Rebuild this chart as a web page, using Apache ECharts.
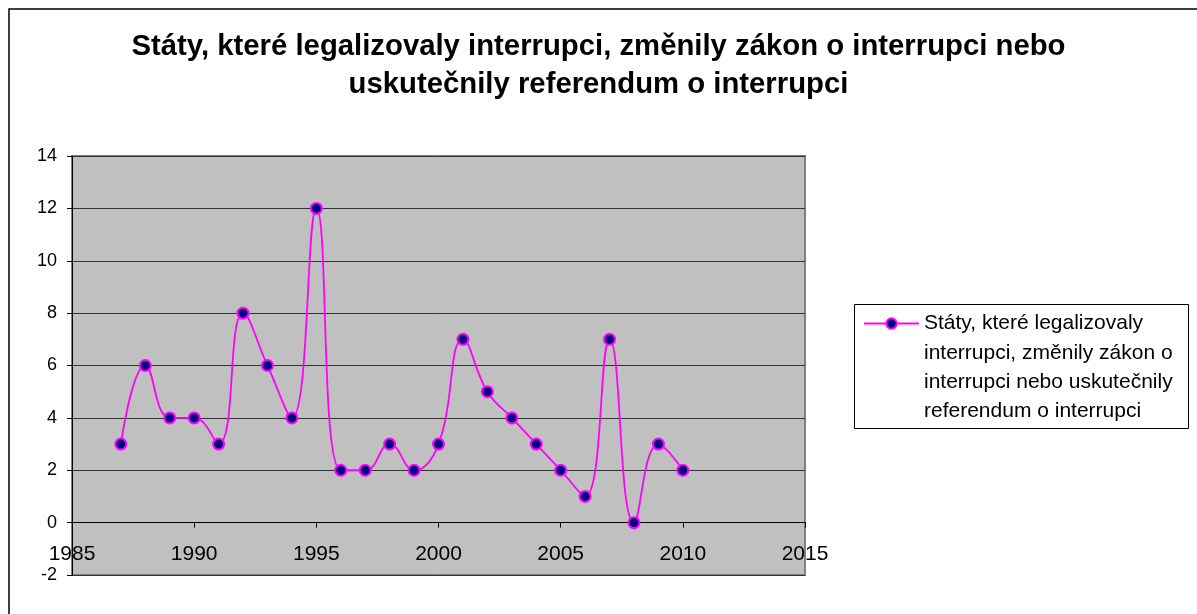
<!DOCTYPE html>
<html>
<head>
<meta charset="utf-8">
<script src="https://cdn.jsdelivr.net/npm/echarts@6/dist/echarts.min.js"></script>
<style>
html,body{margin:0;padding:0;background:#fff;}
#chart{width:1197px;height:614px;}
</style>
</head>
<body>
<div id="chart"></div>
<script>
const years = [1987,1988,1989,1990,1991,1992,1993,1994,1995,1996,1997,1998,1999,2000,2001,2002,2003,2004,2005,2006,2007,2008,2009,2010];
const counts = [3,6,4,4,3,8,6,4,12,2,2,3,2,3,7,5,4,3,2,1,7,0,3,2];
const seriesName = 'Státy, které legalizovaly interrupci, změnily zákon o interrupci nebo uskutečnily referendum o interrupci';
const legendLines = ['Státy, které legalizovaly','interrupci, změnily zákon o','interrupci nebo uskutečnily','referendum o interrupci'];
const titleText = 'Státy, které legalizovaly interrupci, změnily zákon o interrupci nebo\nuskutečnily referendum o interrupci';

const FONT = "Arial, 'Liberation Sans', sans-serif";
const chart = echarts.init(document.getElementById('chart'), null, {renderer:'canvas'});
const points = years.map((y,i)=>[y, counts[i]]);

chart.setOption({
  animation:false,
  backgroundColor:'#ffffff',
  title:{
    text:titleText,
    left:'center',
    top:28,
    padding:[0,0,0,10],
    textStyle:{fontFamily:FONT,fontSize:29.3,fontWeight:'bold',color:'#000',lineHeight:38}
  },
  graphic:[
    {type:'rect',shape:{x:9,y:9,width:1200,height:620},style:{fill:'none',stroke:'#000',lineWidth:1.5},z:-1},
    {type:'rect',shape:{x:854.5,y:304.5,width:334,height:124},style:{fill:'#fff',stroke:'#000',lineWidth:1},z:-1}
  ],
  legend:{
    left:863,
    top:221,
    padding:0,
    itemWidth:55,
    itemHeight:13,
    data:[seriesName],
    formatter:()=>'\n\n\n' + legendLines.join('\n'),
    textStyle:{fontFamily:FONT,fontSize:21,color:'#000',lineHeight:29.3},
    selectedMode:false
  },
  grid:{
    left:72,top:156,right:392,bottom:39,
    show:true,backgroundColor:'#c0c0c0',borderColor:'#808080',borderWidth:2
  },
  xAxis:{
    type:'value',min:1985,max:2015,interval:5,
    axisLine:{show:true,onZero:true,lineStyle:{color:'#000',width:1}},
    axisTick:{show:true,inside:false,length:5,lineStyle:{color:'#000'}},
    axisLabel:{fontFamily:FONT,fontSize:21,color:'#000',margin:-31,showMinLabel:true,showMaxLabel:true,formatter:v=>String(v)},
    splitLine:{show:false}
  },
  yAxis:{
    type:'value',min:-2,max:14,interval:2,
    axisLine:{show:true,lineStyle:{color:'#000',width:1}},
    axisTick:{show:true,inside:false,length:5,lineStyle:{color:'#000'}},
    axisLabel:{fontFamily:FONT,fontSize:18,color:'#000',margin:15},
    splitLine:{show:true,lineStyle:{color:'#333',width:1}}
  },
  series:[{
    name:seriesName,
    type:'line',
    data:points,
    smooth:0.45,
    symbol:'circle',
    symbolSize:11,
    lineStyle:{color:'#ff00ff',width:1.8},
    itemStyle:{color:'#000080',borderColor:'#ff00ff',borderWidth:2}
  }]
});
</script>
</body>
</html>
